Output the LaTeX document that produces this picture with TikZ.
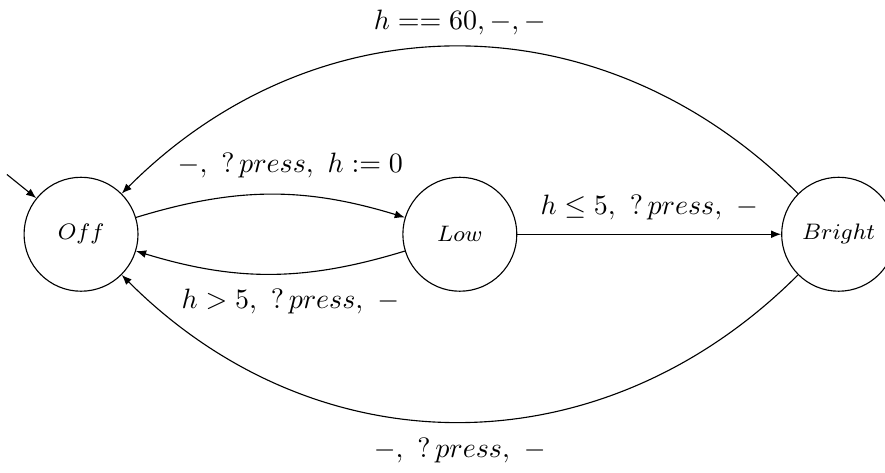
\documentclass[tikz,border=0pt]{standalone}
\usepackage{amsmath}
\usepackage{amssymb}
\usetikzlibrary{arrows.meta, positioning}
\tikzset{
    % Locations of the automaton
    location/.style={
        circle,
        draw=black,
        minimum size=1.43cm,
        inner sep=0pt,
        font=\footnotesize
    },
    % Transitions
    trans/.style={
        ->,
        >={Latex[length=3.6pt, width=2.8pt]},
        black
    },
    guard/.style={
        font=\normalsize
    }
}

\begin{document}
\begin{tikzpicture}
    \useasboundingbox (-1.017,-2.99) rectangle (10.09,2.94);

    % Locations
    \node[location] (off) at (0, 0) {$Off$};
    \node[location, right=3.31cm of off] (low) {$Low$};
    \node[location, right=3.31cm of low] (bright) {$Bright$};

    % Initial location
    \coordinate (start) at (-0.93, 0.75);
    \draw[trans] (start) -- (off);

    % Transitions
    \draw[trans] (off) to[bend left=17]
        node[guard, above, xshift=0.25cm, yshift=0.08cm] {$-,\ ?\,press,\ h := 0$} (low);
    \draw[trans] (low) to[bend left=17]
        node[guard, below, xshift=0.25cm, yshift=-0.06cm] {$h > 5,\ ?\,press,\ -$} (off);
    \draw[trans] (low) --
        node[guard, above, yshift=0.05cm] {$h \leq 5,\ ?\,press,\ -$} (bright);
    \draw[trans] (bright) to[bend right=45, looseness=1.05]
        node[guard, above, yshift=0.02cm] {$h == 60, -, -$} (off);
    \draw[trans] (bright) to[bend left=45, looseness=1.05]
        node[guard, below, yshift=-0.08cm] {$-,\ ?\,press,\ -$} (off);
\end{tikzpicture}
\end{document}
